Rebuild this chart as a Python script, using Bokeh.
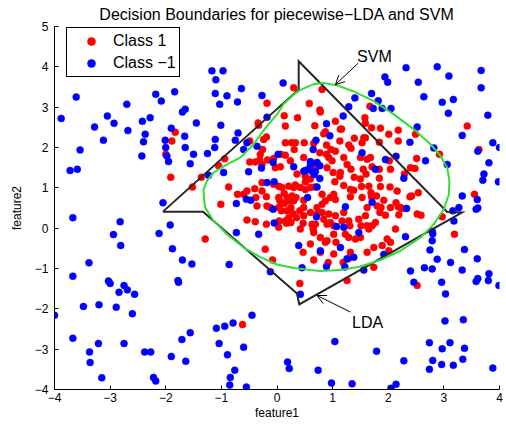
from bokeh.plotting import figure
from bokeh.models import Range1d, Legend, LegendItem, Arrow, OpenHead, Label, FixedTicker
from bokeh.embed import file_html
from bokeh.resources import INLINE

# ---------------- data ----------------
x_ticks = [-4, -3, -2, -1, 0, 1, 2, 3, 4]
x_tick_labels = ["\u22124", "\u22123", "\u22122", "\u22121", "0", "1", "2", "3", "4"]
y_ticks = [-4, -3, -2, -1, 0, 1, 2, 3, 4, 5]
y_tick_labels = ["\u22124", "\u22123", "\u22122", "\u22121", "0", "1", "2", "3", "4", "5"]

class_pos_label = "Class 1"
class_neg_label = "Class \u22121"

red_pts = [
    (0.30,3.48),(0.81,3.44),(0.58,3.09),(0.77,2.93),(0.78,2.88),(0.37,2.74),(0.13,2.79),(0.15,2.53),
    (0.68,2.54),(1.05,2.65),(1.16,2.46),(0.84,2.34),(-0.18,3.10),(-0.34,2.61),(-0.33,2.55),(1.67,3.02),
    (1.58,2.74),(1.59,2.60),(1.70,2.49),(1.86,2.48),(2.01,2.33),(2.18,2.43),(2.49,2.33),(3.42,2.53),(1.59,2.24),
    (-2.00,1.83),(-1.91,1.26),(-1.52,1.02),(-1.36,1.26),(-1.05,1.55),(-1.01,0.59),(-1.29,-0.27),(-0.54,0.20),
    (-0.39,0.16),(-0.21,-0.52),(-0.08,-0.79),(0.66,-0.79),(1.19,-0.85),(1.74,-0.97),(1.98,-0.27),(2.97,0.28),
    (3.55,0.84),(3.63,1.95),(2.92,1.83),(2.40,1.50),(2.39,0.78),
    (-0.62,-2.39),(0.41,-1.37),(1.26,-1.30),(2.52,-1.42),
    (-1.83,2.38),(-1.89,2.16),(-0.94,1.72),(-0.87,1.02),(-0.49,2.16),(-0.24,2.20),(-0.19,2.26),(-0.26,1.95),
    (0.15,2.12),(0.26,2.12),(0.33,2.12),(0.31,1.95),(0.49,2.12),(-0.30,1.83),(-0.31,1.69),(-0.49,1.64),
    (-0.39,1.64),(-0.27,1.58),(-0.17,1.69),(-0.06,1.73),(0.07,1.83),(0.15,1.81),(-0.03,1.50),(0.06,1.52),
    (0.24,1.67),(0.36,1.34),(0.51,1.15),(-0.27,1.13),(-0.40,0.98),(-0.06,1.09),(0.03,1.04),(0.09,1.01),
    (0.21,1.04),(0.30,1.01),(0.33,1.07),(0.42,1.01),(-0.71,0.84),(-0.60,0.84),(-0.38,0.76),(-0.19,0.78),
    (0.03,0.76),(0.13,0.86),(0.18,0.76),(0.27,0.80),(0.13,0.61),(0.23,0.68),(0.34,0.76),(0.48,0.69),
    (-0.12,0.51),(0.03,0.51),(0.08,0.43),(0.25,0.51),(0.29,0.36),(0.41,0.43),(0.21,0.26),(0.25,0.14),
    (0.04,0.18),(0.03,0.02),(0.17,0.12),(0.47,0.12),(-0.19,0.10),(0.35,0.26),
    (-0.54,0.92),(-0.27,0.92),(-0.36,0.55),(-0.18,0.55),(0.05,0.68),(0.18,0.43),(0.30,0.68),(0.15,0.18),
    (0.42,-0.02),(0.63,0.10),(0.78,-0.23),(0.96,0.14),(0.90,-0.31),(1.02,-0.15),(1.29,-0.23),(1.29,0.18),
    (1.47,0.22),(1.62,0.06),(2.13,-0.02),(2.22,0.51),(2.52,0.35),
    (2.18,2.16),(1.84,2.13),(2.51,1.73),(2.48,1.48),(3.19,-0.15),(2.04,1.46),(2.29,1.34),(1.71,1.52),
    (1.84,1.24),(2.03,1.02),(2.16,0.92),(2.42,0.80),(2.54,0.88),(2.14,0.63),(2.18,0.53),(2.19,0.33),
    (1.92,0.69),(1.87,0.51),(2.04,0.51),(2.25,0.49),(2.59,0.32),(1.60,1.34),(1.50,1.22),(1.39,1.26),
    (1.55,1.46),(1.50,1.75),(1.68,1.75),(1.62,1.71),(1.84,1.46),(2.02,1.67),(1.86,1.03),(1.79,0.80),
    (1.70,0.78),(1.65,1.04),(1.52,1.03),(1.38,0.94),(1.32,0.96),(1.32,0.78),(1.53,0.76),(1.69,0.88),
    (1.80,0.55),(1.85,0.39),(1.95,0.32),(1.62,0.51),(1.59,0.31),(1.77,0.14),(1.71,0.06),(1.51,0.06),
    (1.50,-0.23),(1.65,-0.02),(2.04,-0.35),(1.89,-0.43),(2.01,-0.56),(1.74,-0.48),(1.62,-0.60),(1.32,-0.60),
    (1.06,-0.35),(0.87,-0.35),(0.92,-0.85),(1.28,-0.76),(1.31,0.06),(1.17,0.18),(1.05,0.31),(1.20,0.39),
    (1.02,0.06),(0.90,0.10),(0.69,0.10),(0.65,-0.02),(0.66,-0.11),(0.47,-0.60),(0.60,-0.39),(0.78,-0.60),
    (1.02,-0.64),(1.41,-0.27),(1.23,-0.15),(0.51,0.96),(0.60,1.01),(0.68,1.02),(0.81,0.84),(0.87,0.68),
    (0.96,0.76),(1.02,0.84),(1.05,0.71),(0.81,0.59),(0.72,0.51),(0.72,0.35),(0.81,0.39),(0.93,0.35),
    (0.60,0.39),(0.48,0.51),(0.48,0.31),(0.84,0.22),(0.51,1.29),(0.60,1.22),(0.66,1.50),(0.89,1.83),
    (0.93,1.75),(0.97,1.95),(0.99,1.67),(1.05,1.91),(1.13,2.16),(1.29,2.06),(1.33,1.98),(1.39,2.23),
    (1.53,2.12),(1.56,2.24),(1.20,1.75),(1.26,1.58),(1.33,1.46),(1.14,1.38),(1.13,1.29),(1.01,1.38),
    (0.90,1.50),(1.04,1.15),(1.20,1.06),(1.14,2.45),(0.87,2.39),(0.66,2.10),(0.89,2.06),(0.77,1.87),(0.48,1.75),
]

blue_pts = [
    (-3.88,2.72),(-3.61,3.25),(-3.28,2.51),(-3.05,2.78),(-2.93,2.60),(-2.70,3.07),(-2.68,2.42),(-2.42,2.65),
    (-2.37,2.33),(-2.28,2.74),(-2.18,3.32),(-2.08,3.15),(-1.84,3.38),(-1.70,2.88),(-1.65,2.95),(-1.45,2.61),
    (-1.90,2.48),(-1.17,3.90),(-0.97,3.90),(-1.10,3.68),(-1.11,3.34),(-0.90,3.28),(-1.03,3.07),(-1.01,2.55),
    (-0.71,3.13),(-0.64,3.46),(-0.70,2.36),(-0.27,3.29),(-0.18,2.75),(0.11,3.60),(1.70,3.34),(1.82,3.16),
    (1.73,2.97),(1.29,3.01),(1.19,2.78),(1.40,3.23),(1.89,2.97),(2.05,2.97),(1.94,3.75),(1.99,3.62),
    (2.32,3.98),(2.54,3.62),(2.52,2.51),(2.64,3.26),(2.88,4.00),(2.97,3.12),(3.09,3.77),(3.08,2.85),
    (3.17,3.19),(3.33,2.30),(3.67,3.91),(3.67,3.48),(3.79,2.80),
    (-3.72,1.43),(-3.59,1.46),(-3.54,1.94),(-3.12,2.18),(-2.43,1.79),(-2.40,2.14),(-3.67,0.26),(-2.82,0.16),
    (-2.94,-0.16),(-2.81,-0.43),(-3.38,-0.86),(-3.67,-1.19),(-2.05,0.63),(-1.92,0.08),(-2.12,-0.13),(-1.88,-0.51),
    (-1.70,-0.79),(-1.53,-0.89),(-1.98,1.79),(-1.95,1.65),(-2.00,2.00),(-1.56,1.60),(-1.50,1.83),(-1.65,2.00),
    (-1.25,1.85),(-1.12,2.00),(-0.96,1.38),(-0.73,0.61),(-0.55,0.72),(-0.47,0.69),(-0.73,-0.11),(-0.33,-0.15),
    (-0.86,-0.90),(-0.36,2.03),(-0.60,1.95),(-0.28,1.49),(-0.18,1.13),(-0.05,1.15),(-0.07,1.63),(-0.07,0.47),
    (-0.05,0.13),(0.30,1.52),(0.39,-0.43),(0.45,-0.98),(0.48,1.41),(0.60,1.57),(0.69,1.41),(0.67,1.33),
    (0.77,1.55),(0.65,1.95),(0.77,1.23),(0.71,0.28),(0.78,-0.56),(0.89,-0.95),(1.23,0.53),(1.14,-0.48),
    (1.26,-0.76),(1.07,0.04),(1.47,-0.11),(1.38,-0.72),(1.53,1.87),(1.71,0.64),(1.77,1.46),(1.92,-0.65),
    (1.95,1.70),(2.14,1.78),(2.28,1.24),(2.31,-0.21),(2.33,0.49),(2.67,1.67),(2.82,1.99),(3.06,1.58),
    (3.16,0.43),(3.33,0.80),(3.27,0.51),(2.79,-0.08),(2.80,-0.14),(2.79,-0.31),(2.75,-0.54),(3.18,0.18),
    (3.37,-0.53),(3.12,-0.85),(2.88,-0.77),(2.65,-0.98),(2.40,-1.06),(3.60,0.71),(3.58,0.47),(3.61,0.50),
    (3.70,1.19),(3.72,1.34),(3.81,1.62),(3.98,1.15),(4.00,2.00),(3.88,2.12),(3.61,1.91),(3.60,-0.76),
    (3.81,-1.13),(3.61,-1.25),
    (-4.00,-2.16),(-3.48,-1.94),(-3.20,-1.90),(-2.89,-1.96),(-2.84,-1.59),(-2.69,-1.53),(-2.56,-1.64),(-2.60,-2.12),
    (-2.75,-1.42),(-3.03,-1.31),(-3.00,-1.37),(-3.67,-2.73),(-3.37,-3.07),(-3.21,-2.86),(-3.36,-3.33),(-3.15,-3.71),
    (-2.75,-2.86),(-2.38,-3.07),(-2.27,-3.07),(-2.22,-3.70),(-2.18,-3.79),(-1.90,-3.18),(-1.71,-2.76),(-1.64,-3.30),
    (-1.56,-2.59),(-1.78,-1.30),(-1.77,-1.34),(-1.09,-2.48),(-0.94,-2.43),(-0.79,-2.35),(-0.45,-2.16),(-1.04,-2.86),
    (-0.89,-3.14),(-0.60,-2.95),(-0.76,-3.52),(-0.84,-3.70),(-0.85,-3.89),(-0.55,-3.94),(0.42,-1.64),(0.19,-3.32),
    (0.22,-3.48),(0.74,-3.52),(1.04,-2.81),(0.98,-3.84),(1.35,-3.86),(1.79,-3.05),(2.05,-3.97),(2.14,-3.87),
    (2.28,-3.29),(2.74,-3.50),(2.80,-3.28),(2.74,-2.84),(2.97,-2.99),(2.96,-3.38),(3.11,-2.84),(3.17,-3.40),
    (3.34,-3.25),(3.37,-2.98),(3.35,-2.27),(3.02,-2.30),(3.03,-1.63),(2.96,-1.34),(3.58,-1.32),(3.80,-1.30),
    (3.99,-1.42),(3.88,-3.47),(2.46,-1.34),
    (-2.01,2.18),(-1.66,2.28),(-0.75,2.18),(-1.11,2.20),(-0.54,2.12),(-1.23,1.31),(-0.51,1.40),(0.02,1.83),
    (0.57,1.46),(-0.12,-1.08),
    (2.39,2.13),(0.89,2.59),(0.95,2.29),(0.70,2.18),(0.60,1.65),(0.72,1.63),(0.51,1.43),(0.63,1.41),
    (0.72,1.02),(0.55,0.76),(1.20,0.02),(1.56,-1.04),(1.22,-0.96),(3.33,-1.04),(2.79,-1.01),
]

# piecewise-LDA boundary vertices
lda_x = [-2.05, -1.33, 0.36, 0.40, 3.33, 3.06, 0.39, 0.39, -2.05]
lda_y = [0.41, 0.41, -1.62, -1.89, 0.39, 0.40, 4.14, 3.44, 0.41]

# SVM boundary (closed curve)
svm_x = [0.84, 0.66, 0.42, 0.30, 0.12, 0.00, -0.20, -0.42, -0.66, -0.90, -1.14, -1.26, -1.32, -1.31,
         -1.29, -1.14, -0.90, -0.60, -0.30, 0.00, 0.30, 0.60, 0.78, 1.14, 1.50, 1.86, 2.22, 2.58,
         2.82, 3.00, 3.09, 3.10, 3.06, 2.94, 2.76, 2.46, 2.10, 1.74, 1.38, 1.08, 0.84]
svm_y = [3.60, 3.57, 3.43, 3.31, 3.08, 2.82, 2.50, 2.08, 1.75, 1.58, 1.38, 1.17, 0.95, 0.70,
         0.51, 0.18, -0.15, -0.48, -0.72, -0.90, -0.99, -1.04, -1.06, -1.04, -0.95, -0.79, -0.56, -0.23,
         0.10, 0.47, 0.84, 1.17, 1.50, 1.79, 2.08, 2.45, 2.82, 3.15, 3.39, 3.54, 3.60]

title_text = "Decision Boundaries for piecewise\u2212LDA and SVM"

# ---------------- figure ----------------
FONT = "Liberation Sans"

p = figure(width=506, height=427, output_backend="svg", toolbar_location=None,
           x_range=Range1d(-4, 4), y_range=Range1d(-4, 5),
           min_border_left=54, min_border_right=7, min_border_top=25, min_border_bottom=38,
           background_fill_color="white", border_fill_color="white")
p.outline_line_color = None
p.xgrid.visible = False
p.ygrid.visible = False

p.title.text = title_text
p.title.align = "center"
p.title.text_font = FONT
p.title.text_font_size = "16px"
p.title.text_font_style = "normal"
p.title.text_color = "black"
p.title.standoff = 7

p.xaxis.axis_label = "feature1"
p.yaxis.axis_label = "feature2"
p.xaxis.ticker = FixedTicker(ticks=x_ticks)
p.yaxis.ticker = FixedTicker(ticks=y_ticks)
p.xaxis.major_label_overrides = {t: l for t, l in zip(x_ticks, x_tick_labels)}
p.yaxis.major_label_overrides = {t: l for t, l in zip(y_ticks, y_tick_labels)}

for ax in (p.xaxis[0], p.yaxis[0]):
    ax.major_tick_in = 4
    ax.major_tick_out = 0
    ax.minor_tick_line_color = None
    ax.axis_line_color = "black"
    ax.major_tick_line_color = "black"
    ax.major_label_text_font = FONT
    ax.major_label_text_font_size = "12px"
    ax.major_label_text_color = "black"
    ax.axis_label_text_font = FONT
    ax.axis_label_text_font_size = "12px"
    ax.axis_label_text_font_style = "normal"
    ax.axis_label_text_color = "black"

p.xaxis.major_label_standoff = 3
p.xaxis.axis_label_standoff = 1
p.yaxis.major_label_standoff = 6
p.yaxis.axis_label_standoff = 8

r_red = p.scatter([q[0] for q in red_pts], [q[1] for q in red_pts], marker="circle", size=7,
                  fill_color="#ff0000", line_color="#ff0000", line_width=0.5)
r_blue = p.scatter([q[0] for q in blue_pts], [q[1] for q in blue_pts], marker="circle", size=7,
                   fill_color="#0000ff", line_color="#0000ff", line_width=0.5)

p.line(lda_x, lda_y, line_color="#262626", line_width=2, line_join="miter")
p.line(svm_x, svm_y, line_color="#33dd33", line_width=2, line_join="round")

# annotations
p.add_layout(Arrow(end=OpenHead(size=9, line_width=1, line_color="black"),
                   x_start=1.46, y_start=4.09, x_end=1.05, y_end=3.56,
                   line_width=1, line_color="black"))
p.add_layout(Arrow(end=OpenHead(size=9, line_width=1, line_color="black"),
                   x_start=1.32, y_start=-2.08, x_end=0.72, y_end=-1.67,
                   line_width=1, line_color="black"))
p.add_layout(Label(x=1.44, y=4.26, text="SVM", text_font=FONT, text_font_size="16px",
                   text_baseline="alphabetic", text_align="left", text_color="black"))
p.add_layout(Label(x=1.35, y=-2.33, text="LDA", text_font=FONT, text_font_size="16px",
                   text_baseline="alphabetic", text_align="left", text_color="black"))

legend = Legend(items=[LegendItem(label=class_pos_label, renderers=[r_red]),
                       LegendItem(label=class_neg_label, renderers=[r_blue])],
                location=(12, 312), padding=3, spacing=2, glyph_height=20, glyph_width=42,
                label_standoff=1, label_text_font=FONT, label_text_font_size="16px",
                label_text_color="black", border_line_color="black", border_line_alpha=1.0,
                border_line_width=1.3, margin=0, background_fill_color="white",
                background_fill_alpha=1.0)
p.add_layout(legend)

open("out.html", "w").write(file_html(p, INLINE))
